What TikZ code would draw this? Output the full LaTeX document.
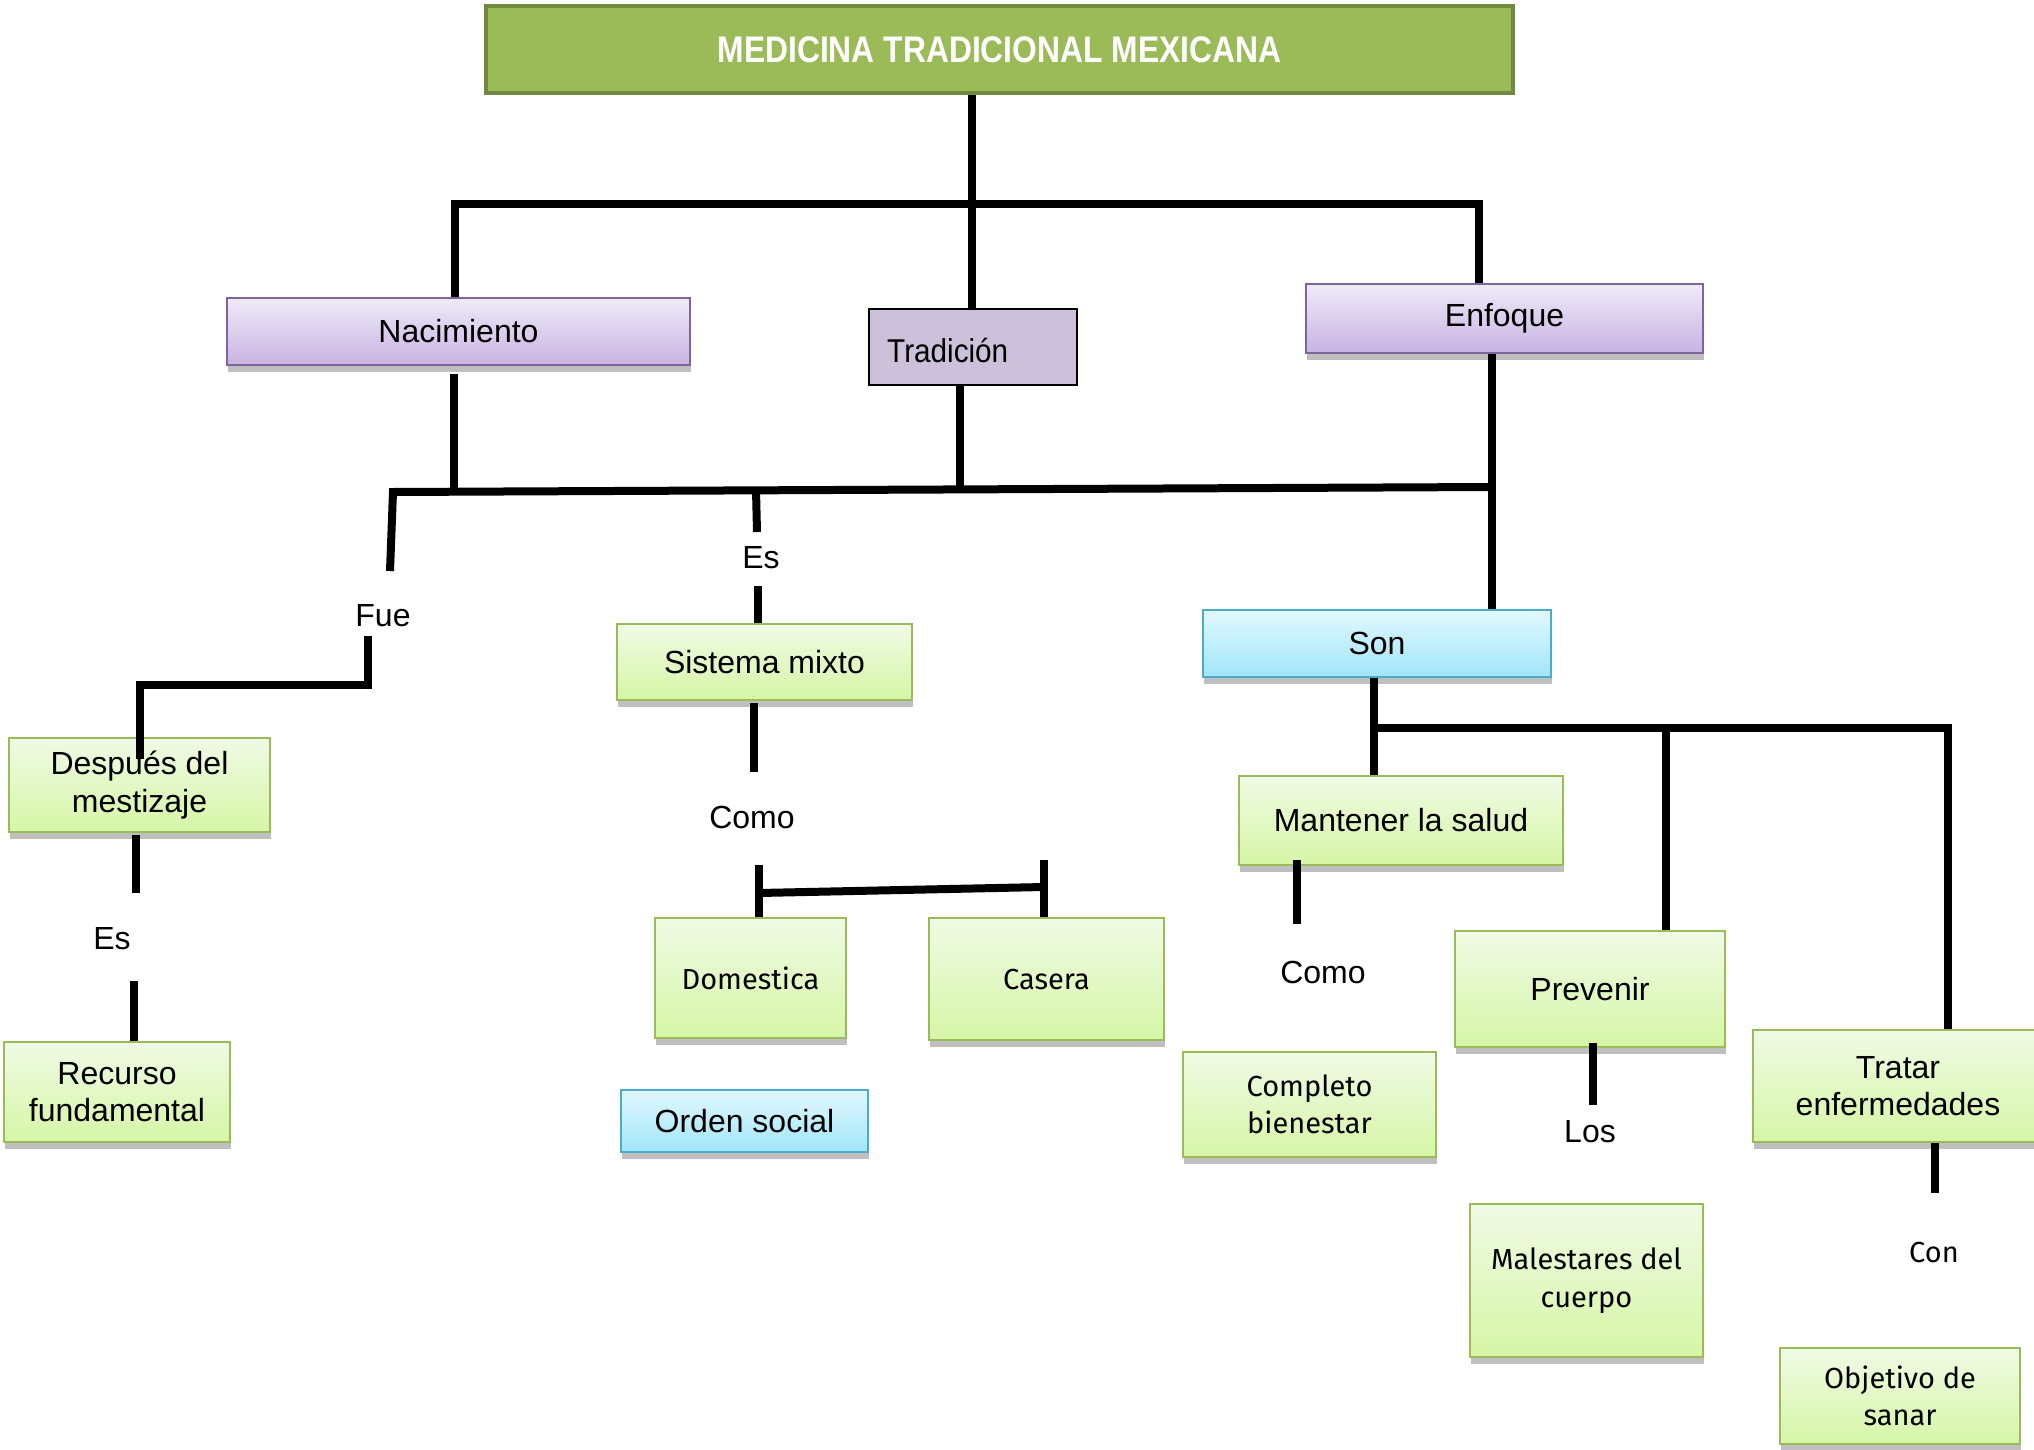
\documentclass[tikz,border=0pt]{standalone}
\usepackage{fontspec}
\setmainfont{Liberation Sans}
\newfontfamily\firafont{Fira Sans}
\newfontfamily\narrowfont[FakeStretch=0.86]{Liberation Sans}
\newfontfamily\tradfont[FakeStretch=0.9]{Liberation Sans}
\usetikzlibrary{shadows,calc}
\definecolor{grnTop}{HTML}{F0FAE5}
\definecolor{grnBot}{HTML}{D6F6A6}
\definecolor{grnLine}{HTML}{9BBB59}
\definecolor{purTop}{HTML}{EFEAF8}
\definecolor{purBot}{HTML}{C8B3E2}
\definecolor{purLine}{HTML}{8064A2}
\definecolor{bluTop}{HTML}{E2F8FE}
\definecolor{bluBot}{HTML}{A0E5F9}
\definecolor{bluLine}{HTML}{4BACC6}
\definecolor{titFill}{HTML}{9BBB59}
\definecolor{titLine}{HTML}{71893F}
\definecolor{tradFill}{HTML}{CCC0DA}
\newcommand\fntA{\fontsize{32}{37.5}\selectfont}
\newcommand\fntB{\firafont\fontsize{29}{37.5}\selectfont}
\tikzset{
  conn/.style={line width=8pt, line join=miter, line cap=butt},
  shd/.style={drop shadow={shadow xshift=1pt, shadow yshift=-7pt, fill=black, opacity=0.25}},
  bx/.style={draw, line width=2pt, inner sep=0pt, align=center, font=\fntA, shd},
  gbox/.style={bx, draw=grnLine, top color=grnTop, bottom color=grnBot},
  pbox/.style={bx, draw=purLine, top color=purTop, bottom color=purBot},
  cbox/.style={bx, draw=bluLine, top color=bluTop, bottom color=bluBot},
  lbl/.style={inner sep=0pt, font=\fntA},
}
\begin{document}
\begin{tikzpicture}[x=1pt, y=-1pt]
\fill[white] (0,0) rectangle (2034,1450);
\useasboundingbox (0,0) rectangle (2034,1450);

% ---------- nodes ----------
\node[draw=titLine, line width=4pt, fill=titFill, minimum width=1027pt, minimum height=87pt, inner sep=0pt,
      text=white, font={\narrowfont\bfseries\fontsize{37}{40}\selectfont}] (title) at (999.5,49.5) {MEDICINA TRADICIONAL MEXICANA};

\node[pbox, minimum width=463pt, minimum height=67pt] (nac) at (458.5,331.5) {Nacimiento};
\node[draw=black, line width=1.5pt, fill=tradFill, minimum width=208pt, minimum height=76pt, inner sep=0pt] (trad) at (973,347) {};
\node[inner sep=0pt, anchor=west, font={\tradfont\fontsize{33}{36}\selectfont}] (tradtxt) at (887,351) {Tradición};
\node[pbox, minimum width=397pt, minimum height=69pt] (enf) at (1504.5,318.5) {Enfoque};

\node[cbox, minimum width=348pt, minimum height=67pt] (son) at (1377,643.5) {Son};
\node[gbox, minimum width=295pt, minimum height=76pt] (sis) at (764.5,662) {Sistema mixto};
\node[gbox, minimum width=261pt, minimum height=94pt] (desp) at (139.5,785) {Después del\\mestizaje};
\node[gbox, minimum width=226pt, minimum height=100pt] (rec) at (117,1092) {Recurso\\fundamental};
\node[gbox, minimum width=191pt, minimum height=120pt, font=\fntB] (dom) at (750.5,978) {Domestica};
\node[gbox, minimum width=235pt, minimum height=122pt, font=\fntB] (cas) at (1046.5,979) {Casera};
\node[cbox, minimum width=247pt, minimum height=62pt] (ord) at (744.5,1121) {Orden social};

\node[gbox, minimum width=324pt, minimum height=89pt] (man) at (1401,820.5) {Mantener la salud};
\node[gbox, minimum width=253pt, minimum height=105pt, font=\fntB] (comp) at (1309.5,1104.5) {Completo\\bienestar};
\node[gbox, minimum width=270pt, minimum height=116pt] (prev) at (1590,989) {Prevenir};
\node[gbox, minimum width=233pt, minimum height=153pt, font=\fntB] (mal) at (1586.5,1280.5) {Malestares del\\cuerpo};
\node[gbox, minimum width=290pt, minimum height=112pt] (trat) at (1898,1086) {Tratar\\enfermedades};
\node[gbox, minimum width=240pt, minimum height=96pt, font=\fntB] (obj) at (1900,1396) {Objetivo de\\sanar};

% link words
\node[lbl] (fue) at (383,616) {Fue};
\node[lbl] (es1) at (761,558) {Es};
\node[lbl] (como1) at (752,817) {Como};
\node[lbl] (es2) at (112,939) {Es};
\node[lbl] (como2) at (1323,972) {Como};
\node[lbl] (los) at (1590,1132) {Los};
\node[lbl, font=\fntB] (con) at (1934,1252) {Con};

% ---------- junction / free-end coordinates ----------
\coordinate (j1) at (972,204);
\coordinate (j1l) at (455,204);
\coordinate (j1r) at (1479,204);
\coordinate (j2l) at (393,492);
\coordinate (j2r) at (1492,487);
\coordinate (j2a) at (454,491);
\coordinate (j2b) at (960,489);
\coordinate (j2c) at (756,490);
\coordinate (fueA) at (390,571);
\coordinate (fueB) at (368,636);
\coordinate (fueC) at (368,685);
\coordinate (fueD) at (140,685);
\coordinate (despIn) at (140,759);
\coordinate (esA) at (757,532);
\coordinate (esB) at (758,586);
\coordinate (natA) at (454,374);
\coordinate (sisA) at (754,703);
\coordinate (sisB) at (754,772);
\coordinate (brL) at (759,865);
\coordinate (brLm) at (759,893);
\coordinate (brRm) at (1044,887);
\coordinate (brR) at (1044,860);
\coordinate (dsA) at (136,835);
\coordinate (dsB) at (136,893);
\coordinate (es2B) at (134,981);
\coordinate (sonJ) at (1374,728);
\coordinate (sonJm) at (1666,728);
\coordinate (sonJr) at (1948,728);
\coordinate (manA) at (1297,860);
\coordinate (manB) at (1297,924);
\coordinate (prA) at (1593,1105);
\coordinate (trA) at (1935,1193);

% ---------- connectors ----------
\draw[conn] (title.south -| j1) -- (j1);
\draw[conn] (nac.north -| j1l) -- (j1l) -- (j1r) -- (enf.north -| j1r);
\draw[conn] (j1) -- (trad.north -| j1);

\draw[conn] (natA) -- (j2a);
\draw[conn] (trad.south -| j2b) -- (j2b);
\draw[conn] (enf.south -| j2r) -- (son.north -| j2r);
\draw[conn] (fueA) -- (j2l) -- (j2r);
\draw[conn] (fueB) -- (fueC) -- (fueD) -- (despIn);

\draw[conn] (j2c) -- (esA);
\draw[conn] (esB) -- (sis.north -| esB);
\draw[conn] (sisA) -- (sisB);
\draw[conn] (dom.north -| brL) -- (brL);
\draw[conn] (brLm) -- (brRm);
\draw[conn] (brR) -- (cas.north -| brR);

\draw[conn] (dsA) -- (dsB);
\draw[conn] (es2B) -- (rec.north -| es2B);

\draw[conn] (son.south -| sonJ) -- (man.north -| sonJ);
\draw[conn] (sonJ) -- (sonJr) -- (trat.north -| sonJr);
\draw[conn] (sonJm) -- (prev.north -| sonJm);
\draw[conn] (manA) -- (manB);
\draw[conn] ($(prev.south -| prA)+(0,-5)$) -- (prA);
\draw[conn] (trat.south -| trA) -- (trA);
\end{tikzpicture}
\end{document}
